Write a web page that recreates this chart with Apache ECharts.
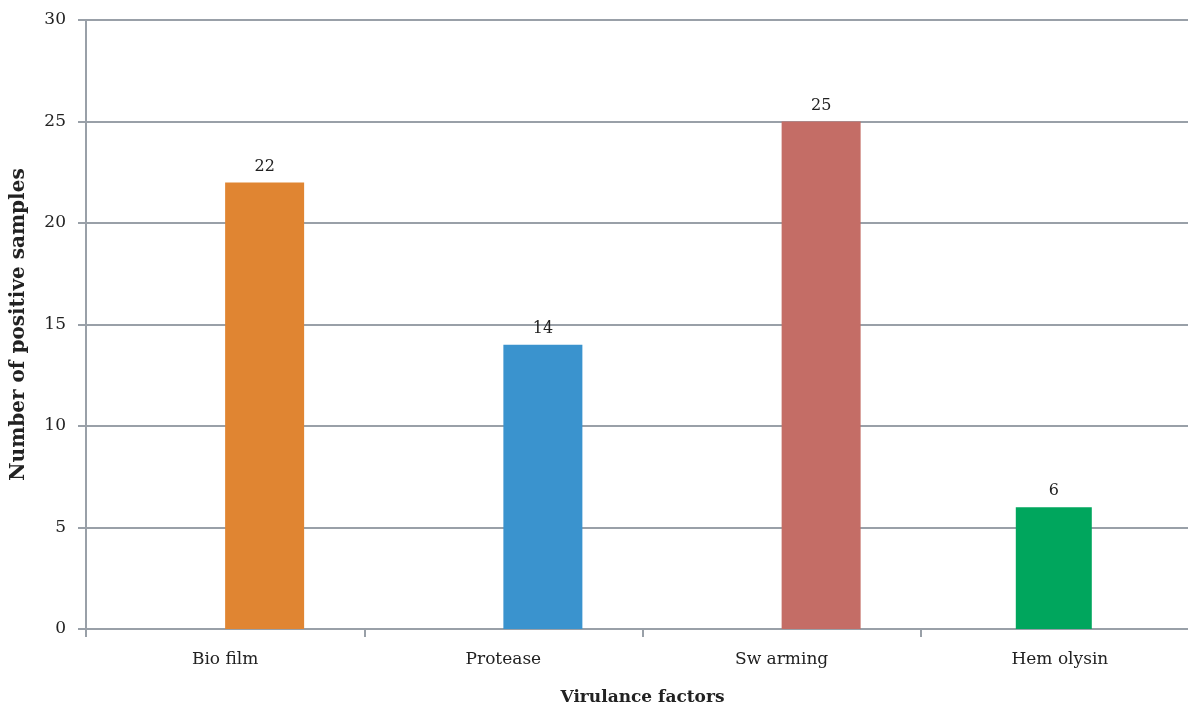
<!DOCTYPE html>
<html>
<head>
<meta charset="utf-8">
<script src="https://cdn.jsdelivr.net/npm/echarts@6/dist/echarts.min.js"></script>
<style>
  html, body { margin: 0; padding: 0; background: #fff; }
  #chart { width: 1188px; height: 705px; }
</style>
</head>
<body>
<div id="chart"></div>
<script>
// Virulence factor counts
const categories = ['Bio film', 'Protease', 'Sw arming', 'Hem olysin'];
const values = [22, 14, 25, 6];
const barColors = ['#E08532', '#3A93CE', '#C46D66', '#00A65D'];
const yTicks = { min: 0, max: 30, interval: 5 };

const serif = '"DejaVu Serif", "Liberation Serif", serif';
const gridColor = '#99A0A8';
const textColor = '#222';

// First three bars occupy the right-hand slot of a two-slot group;
// the last one is drawn on its own overlay axis, nudged slightly left.
const groupedIdx = [0, 1, 2];
const mainData = categories.map((c, i) => groupedIdx.includes(i)
  ? { value: values[i], itemStyle: { color: barColors[i] } } : null);
const lastData = categories.map((c, i) => groupedIdx.includes(i)
  ? null : { value: values[i], itemStyle: { color: barColors[i] } });
const emptySlot = categories.map(() => null);

const labelStyle = {
  show: true, position: 'top', distance: 8,
  fontFamily: serif, fontSize: 16, color: textColor
};

const chart = echarts.init(document.getElementById('chart'));
chart.setOption({
  animation: false,
  grid: { left: 86, right: -11, top: 20, bottom: 76, containLabel: false, outerBoundsMode: 'none' },
  xAxis: [{
    type: 'category',
    data: categories,
    boundaryGap: true,
    axisLine: { lineStyle: { color: gridColor, width: 2 } },
    axisTick: { show: true, length: 8, lineStyle: { color: gridColor, width: 2 } },
    axisLabel: { fontFamily: serif, fontSize: 17, color: textColor, margin: 22 },
    name: 'Virulance factors',
    nameLocation: 'middle',
    nameGap: 60,
    nameTextStyle: { fontFamily: serif, fontSize: 17, fontWeight: 'bold', color: textColor }
  }, {
    type: 'category',
    data: categories,
    position: 'bottom',
    show: false
  }],
  yAxis: {
    type: 'value',
    min: yTicks.min, max: yTicks.max, interval: yTicks.interval,
    axisLine: { show: true, lineStyle: { color: gridColor, width: 2 } },
    axisTick: { show: true, length: 8, lineStyle: { color: gridColor, width: 2 } },
    splitLine: { lineStyle: { color: gridColor, width: 2 } },
    axisLabel: { fontFamily: serif, fontSize: 17, color: textColor, margin: 20 },
    name: 'Number of positive samples',
    nameLocation: 'middle',
    nameGap: 57,
    nameTextStyle: { fontFamily: serif, fontSize: 20, fontWeight: 'bold', color: textColor }
  },
  series: [{
    type: 'bar', xAxisIndex: 0,
    data: emptySlot,
    barWidth: 79, barGap: '0%'
  }, {
    type: 'bar', xAxisIndex: 0,
    data: mainData,
    barWidth: 79, barGap: '0%',
    label: labelStyle
  }, {
    type: 'bar', xAxisIndex: 1,
    data: lastData,
    barWidth: 76, barGap: '-84%',
    label: labelStyle
  }, {
    type: 'bar', xAxisIndex: 1,
    data: emptySlot,
    barWidth: 76, barGap: '-84%'
  }]
});
</script>
</body>
</html>
